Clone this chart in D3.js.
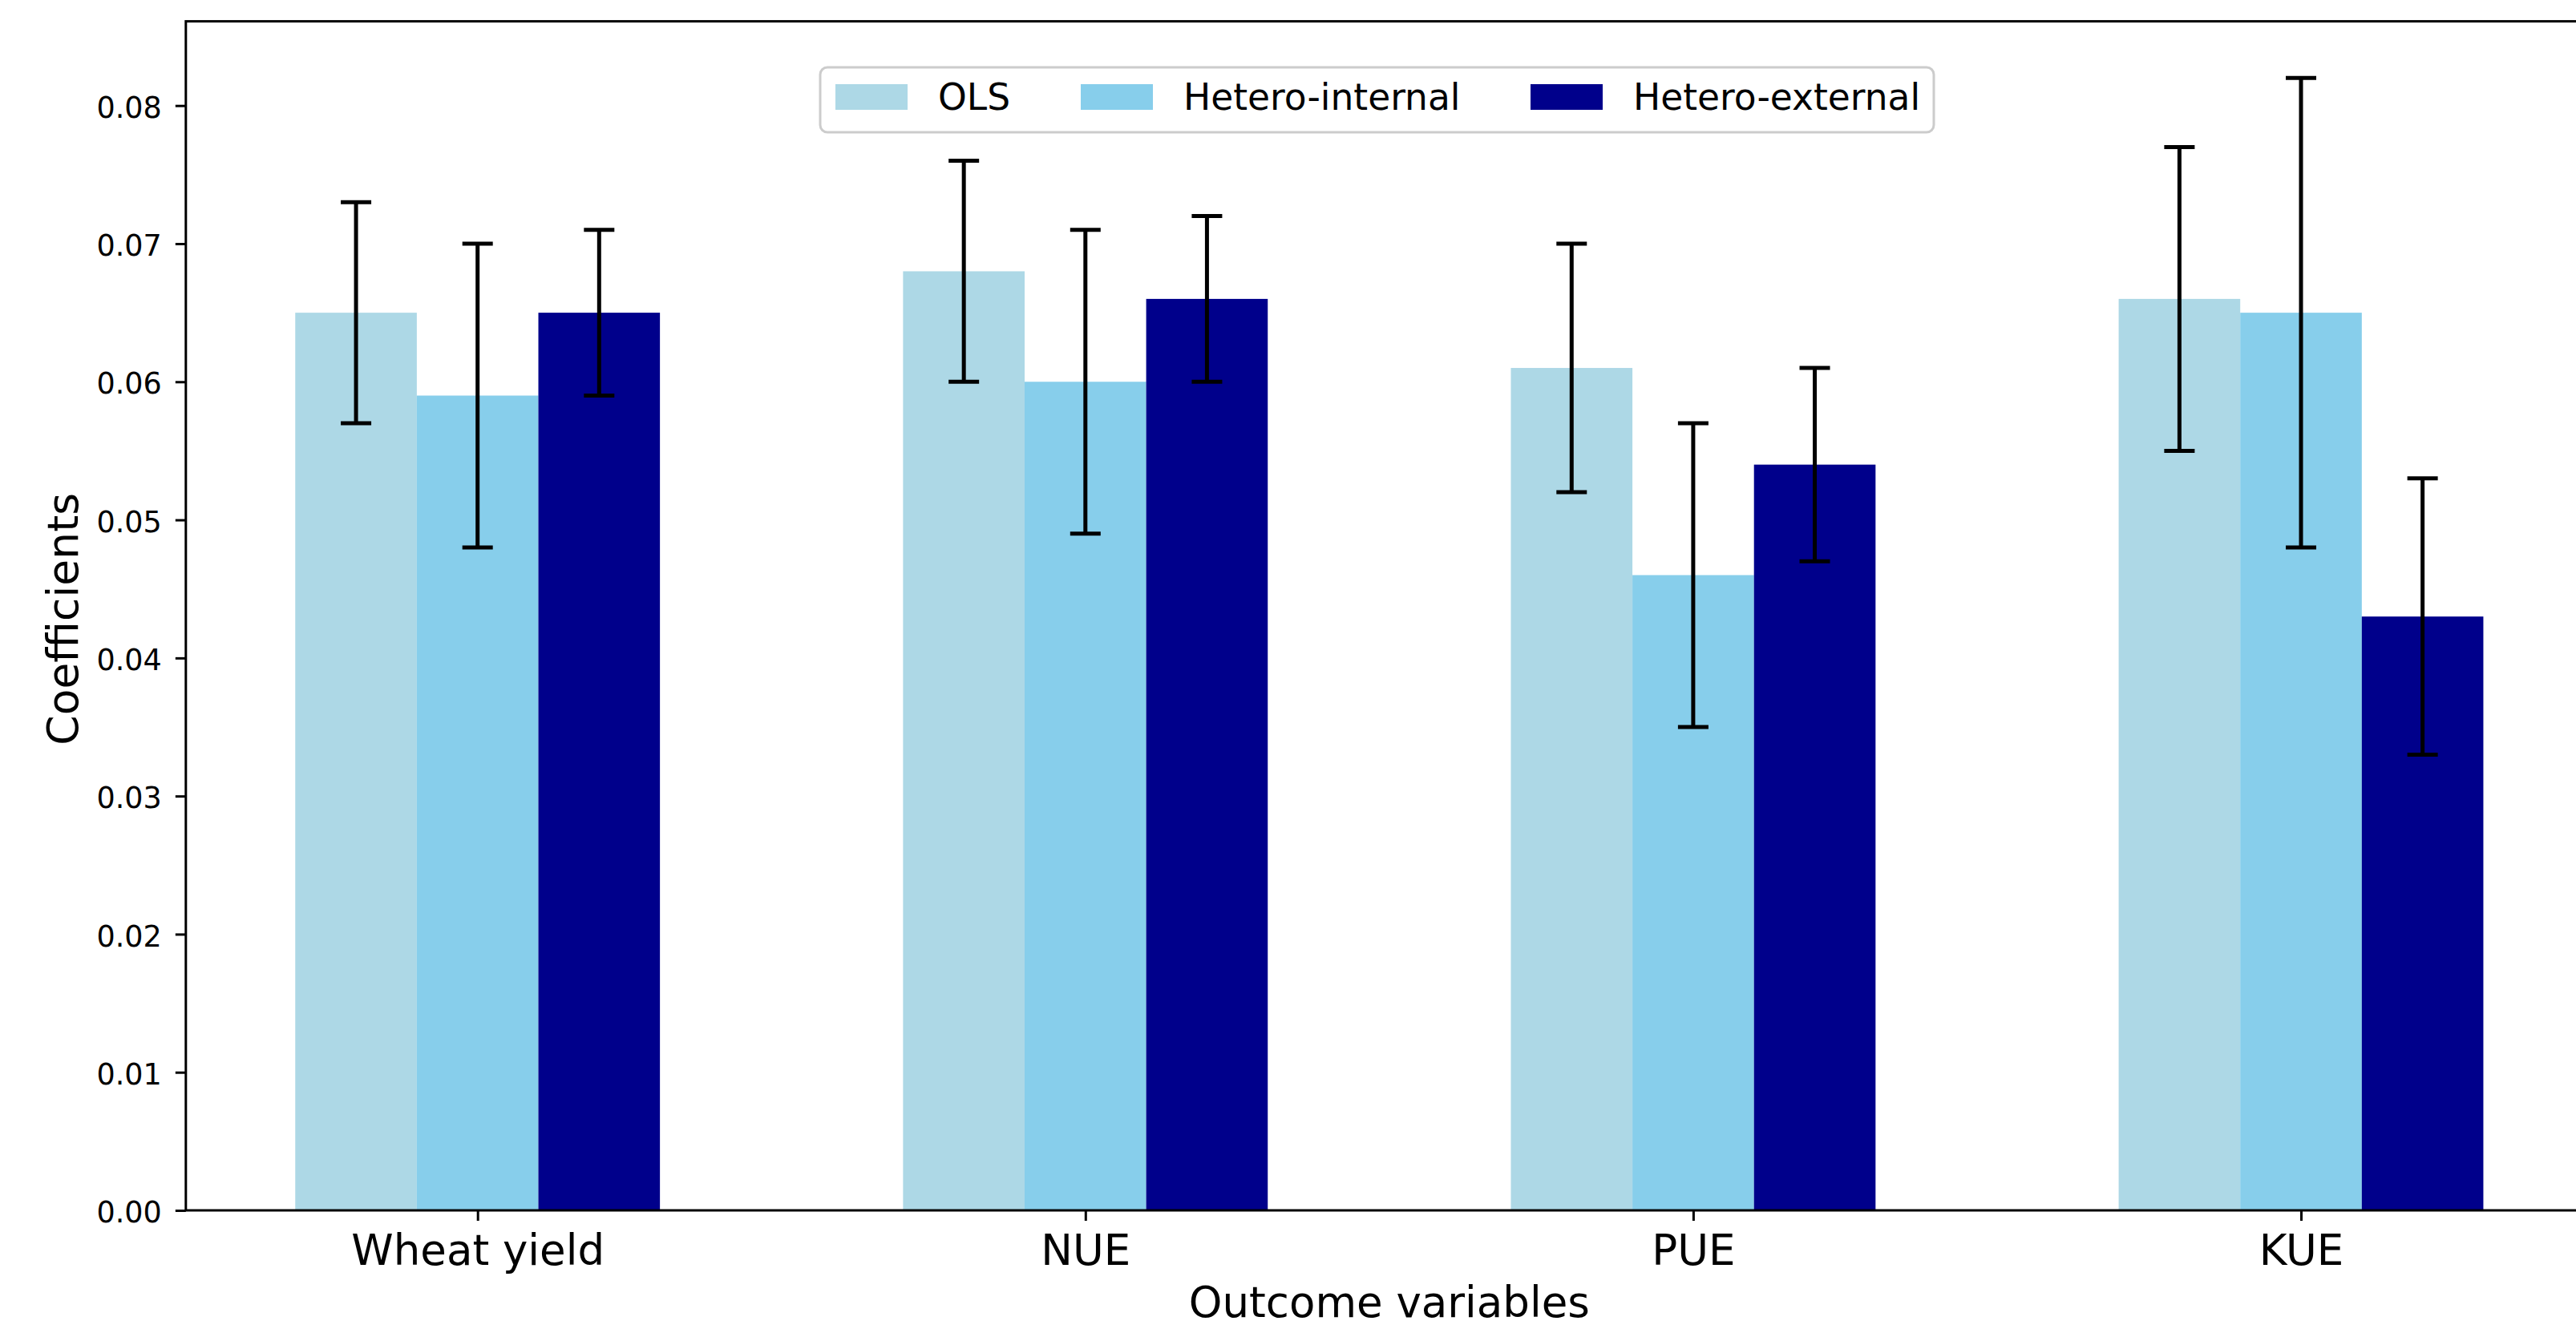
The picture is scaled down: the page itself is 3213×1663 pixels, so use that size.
<!DOCTYPE html>
<html>
<head>
<meta charset="utf-8">
<script src="https://cdn.jsdelivr.net/npm/d3@7"></script>
<style>
  body { margin: 0; background: #fff; }
  svg { display: block; font-family: "DejaVu Sans", sans-serif; }
</style>
</head>
<body>
<script>
// data
var categories = ['Wheat yield', 'NUE', 'PUE', 'KUE'];
var seriesNames = ['OLS', 'Hetero-internal', 'Hetero-external'];

var olsValues = [0.065, 0.068, 0.061, 0.066];
var olsLower  = [0.057, 0.060, 0.052, 0.055];
var olsUpper  = [0.073, 0.076, 0.070, 0.077];

var internalValues = [0.059, 0.060, 0.046, 0.065];
var internalLower  = [0.048, 0.049, 0.035, 0.048];
var internalUpper  = [0.070, 0.071, 0.057, 0.082];

var externalValues = [0.065, 0.066, 0.054, 0.043];
var externalLower  = [0.059, 0.060, 0.047, 0.033];
var externalUpper  = [0.071, 0.072, 0.061, 0.053];

var yTicks = [0, 0.01, 0.02, 0.03, 0.04, 0.05, 0.06, 0.07, 0.08];

var colors = ['#add8e6', '#87ceeb', '#00008b'];

var series = [
  {name: seriesNames[0], values: olsValues, lower: olsLower, upper: olsUpper},
  {name: seriesNames[1], values: internalValues, lower: internalLower, upper: internalUpper},
  {name: seriesNames[2], values: externalValues, lower: externalLower, upper: externalUpper}
];

// layout (axes box runs past the right edge, like the cropped original)
var W = 3213, H = 1663;
var axLeft = 231.8, axRight = 3233.9, axTop = 26.6, axBottom = 1510;
var barW = 0.2;

var svg = d3.select('body').append('svg')
  .attr('width', W).attr('height', H);

var x = d3.scaleLinear().domain([-0.48, 3.48]).range([axLeft, axRight]);
var y = d3.scaleLinear().domain([0, 0.0861]).range([axBottom, axTop]);

// bars
series.forEach(function(s, j) {
  var off = (j - 1) * barW;
  svg.append('g').selectAll('rect')
    .data(s.values)
    .enter().append('rect')
    .attr('x', function(d, i) { return x(i + off - barW / 2); })
    .attr('width', x(barW) - x(0))
    .attr('y', function(d) { return y(d); })
    .attr('height', function(d) { return y(0) - y(d); })
    .attr('fill', colors[j]);
});

// error bars
series.forEach(function(s, j) {
  var off = (j - 1) * barW;
  var g = svg.append('g').attr('stroke', '#000').attr('stroke-width', 5);
  s.values.forEach(function(v, i) {
    var cx = x(i + off);
    g.append('line').attr('x1', cx).attr('x2', cx)
      .attr('y1', y(s.lower[i])).attr('y2', y(s.upper[i]));
    [s.lower[i], s.upper[i]].forEach(function(e) {
      g.append('line').attr('x1', cx - 19).attr('x2', cx + 19)
        .attr('y1', y(e)).attr('y2', y(e));
    });
  });
});

// axes
var yAxis = svg.append('g')
  .attr('transform', 'translate(' + axLeft + ',0)')
  .call(d3.axisLeft(y).tickValues(yTicks).tickFormat(d3.format('.2f'))
        .tickSize(13).tickSizeOuter(0).tickPadding(17));
yAxis.select('.domain').remove();
yAxis.attr('font-family', null).attr('font-size', null);
yAxis.selectAll('line').attr('stroke', '#000').attr('stroke-width', 3);
yAxis.selectAll('text').attr('font-size', 36.5).attr('fill', '#000').attr('dy', '0.4em');

var xAxis = svg.append('g')
  .attr('transform', 'translate(0,' + axBottom + ')')
  .call(d3.axisBottom(x).tickValues([0, 1, 2, 3])
        .tickFormat(function(i) { return categories[i]; })
        .tickSize(13).tickSizeOuter(0).tickPadding(17));
xAxis.select('.domain').remove();
xAxis.attr('font-family', null).attr('font-size', null);
xAxis.selectAll('line').attr('stroke', '#000').attr('stroke-width', 3);
xAxis.selectAll('text').attr('font-size', 53).attr('fill', '#000');

// frame
svg.append('rect')
  .attr('x', axLeft).attr('y', axTop)
  .attr('width', axRight - axLeft).attr('height', axBottom - axTop)
  .attr('fill', 'none').attr('stroke', '#000').attr('stroke-width', 3);

// axis titles
svg.append('text')
  .attr('x', (axLeft + axRight) / 2).attr('y', 1643)
  .attr('text-anchor', 'middle').attr('font-size', 53)
  .text('Outcome variables');

svg.append('text')
  .attr('transform', 'translate(97,' + ((axTop + axBottom) / 2 + 4) + ') rotate(-90)')
  .attr('text-anchor', 'middle').attr('font-size', 53.5)
  .text('Coefficients');

// legend
var legendOffsets = [19, 325, 886];
var legend = svg.append('g').attr('transform', 'translate(1023,84)');
legend.append('rect')
  .attr('width', 1389).attr('height', 81).attr('rx', 9)
  .attr('fill', '#fff').attr('fill-opacity', 0.8)
  .attr('stroke', '#cccccc').attr('stroke-width', 3);
var items = legend.selectAll('g.item')
  .data(seriesNames)
  .enter().append('g')
  .attr('class', 'item')
  .attr('transform', function(d, i) { return 'translate(' + legendOffsets[i] + ',0)'; });
items.append('rect')
  .attr('y', 21).attr('width', 90).attr('height', 32)
  .attr('fill', function(d, i) { return colors[i]; });
items.append('text')
  .attr('x', 128).attr('y', 53)
  .attr('font-size', 45.5)
  .text(function(d) { return d; });
</script>
</body>
</html>
